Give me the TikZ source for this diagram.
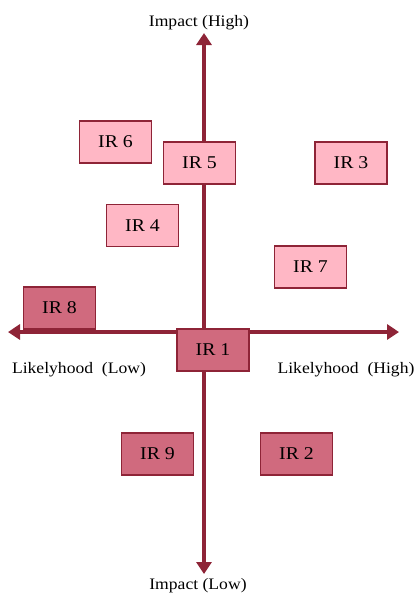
\documentclass[tikz,border=0pt]{standalone}
\usepackage{fontspec}
\setmainfont{Liberation Serif}[FakeStretch=1.1]
\usetikzlibrary{arrows.meta}
\definecolor{axisred}{HTML}{8E2437}
\definecolor{lightpink}{HTML}{FFB7C5}
\definecolor{darkpink}{HTML}{D06A7E}
\tikzset{
  riskbox/.style={draw=axisred, line width=1.6pt, minimum width=72pt, minimum height=42pt, inner sep=0pt, font=\fontsize{18}{21}\selectfont},
  lowrisk/.style={riskbox, fill=lightpink},
  highrisk/.style={riskbox, fill=darkpink},
  axisline/.style={draw=axisred, line width=3.5pt, -{Triangle[length=12pt,width=15pt]}},
  axislabel/.style={font=\fontsize{16}{19}\selectfont, inner sep=0pt}
}
\begin{document}
\begin{tikzpicture}[x=1pt,y=-1pt]
\useasboundingbox (0,0) rectangle (418,595);
\coordinate (c) at (204,332);
\coordinate (top) at (204,33);
\coordinate (bot) at (204,574);
\coordinate (lft) at (8,332);
\coordinate (rgt) at (399,332);
\draw[axisline] (c) -- (top);
\draw[axisline] (c) -- (bot);
\draw[axisline] (c) -- (lft);
\draw[axisline] (c) -- (rgt);
\node[axislabel] (ih) at (199,23) {Impact (High)};
\node[axislabel] (il) at (198,586) {Impact (Low)};
\node[axislabel] (ll) at (79,370) {Likelyhood\ \ (Low)};
\node[axislabel] (lh) at (346,370) {Likelyhood\ \ (High)};
\node[lowrisk] (ir6) at (115.5,142) {IR 6};
\node[lowrisk] (ir5) at (199.5,163) {IR 5};
\node[lowrisk] (ir3) at (351,163) {IR 3};
\node[lowrisk] (ir4) at (142.5,225.5) {IR 4};
\node[lowrisk] (ir7) at (310.5,267) {IR 7};
\node[highrisk] (ir8) at (59.5,308) {IR 8};
\node[highrisk] (ir1) at (213,350) {IR 1};
\node[highrisk] (ir9) at (157.5,454) {IR 9};
\node[highrisk] (ir2) at (296.5,454) {IR 2};
\end{tikzpicture}
\end{document}
